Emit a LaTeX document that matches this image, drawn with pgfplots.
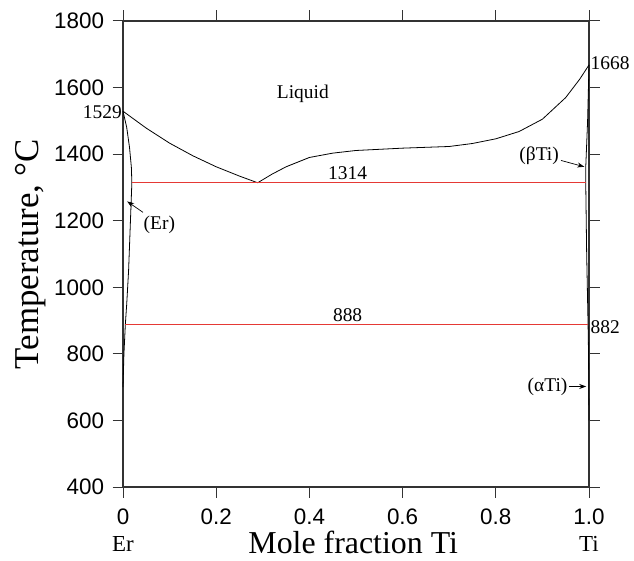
\documentclass[border=0pt]{standalone}
\usepackage{pgfplots}
\pgfplotsset{compat=1.18}
\usepackage{fontspec}
\setmainfont{Liberation Serif}
\newfontfamily\arial{Liberation Sans}
\usetikzlibrary{arrows.meta}
\definecolor{phaseRed}{HTML}{E53935}

% phase boundaries (x = mole fraction Ti, T in deg C)
\pgfplotstableread{
x T
0 1529
0.05 1478
0.10 1433
0.15 1395
0.20 1362
0.25 1334
0.289 1314
}\liqleft
\pgfplotstableread{
x T
0.289 1314
0.32 1340
0.35 1362
0.40 1390
0.45 1403
0.50 1411
0.60 1418
0.70 1423
0.75 1432
0.80 1446
0.85 1468
0.90 1505
0.95 1570
0.98 1625
1.00 1668
}\liqright
\pgfplotstableread{
x T
0 1529
0.008 1480
0.014 1420
0.018 1360
0.019 1314
0.016 1200
0.012 1050
0.008 950
0.005 888
0.002 800
0 700
}\erside
\pgfplotstableread{
x T
1.000 1668
0.997 1500
0.993 1360
0.993 1314
0.995 1100
0.998 888
0.999 800
1.000 600
}\tiside

\begin{document}
\begin{tikzpicture}
\begin{axis}[
  scale only axis,
  width=466bp, height=466bp,
  xmin=0, xmax=1, ymin=400, ymax=1800,
  xtick={0,0.2,0.4,0.6,0.8,1.0},
  xticklabels={0,0.2,0.4,0.6,0.8,1.0},
  ytick={400,600,...,1800},
  /pgf/number format/1000 sep={},
  tick align=outside,
  major tick length=10.5bp,
  axis line style={draw=black!80, line width=1.1pt},
  every tick/.style={draw=black!80, line width=1pt},
  tick label style={font=\arial\fontsize{22.5}{26}\selectfont},
  /pgf/number format/assume math mode=true,
  yticklabel style={xshift=-5bp},
  xticklabel style={yshift=-8bp},
  clip=false,
]
\addplot[black, line width=0.8pt] table {\liqleft};
\addplot[black, line width=0.8pt] table {\liqright};
\addplot[black, line width=0.8pt] table {\erside};
\addplot[black, line width=0.8pt] table {\tiside};
\addplot[phaseRed, line width=1pt] coordinates {(0.019,1314) (0.993,1314)};
\addplot[phaseRed, line width=1pt] coordinates {(0.004,888) (0.997,888)};

\draw[-{Stealth[length=7pt,width=5pt]}, line width=0.7pt] (axis cs:0.043,1225) -- (axis cs:0.009,1258);
\draw[-{Stealth[length=7pt,width=5pt]}, line width=0.7pt] (axis cs:0.940,1381) -- (axis cs:0.990,1362);
\draw[-{Stealth[length=7pt,width=5pt]}, line width=0.7pt] (axis cs:0.958,702) -- (axis cs:0.994,702);

\node[font=\fontsize{19.5}{22}\selectfont] at (axis cs:0.078,1188) {(Er)};
\node[font=\fontsize{19.5}{22}\selectfont] at (axis cs:0.893,1396) {(βTi)};
\node[font=\fontsize{19.5}{22}\selectfont] at (axis cs:0.911,702) {(αTi)};
\node[font=\fontsize{19.5}{22}\selectfont, anchor=east, inner sep=1bp] at (axis cs:0,1527) {1529};
\node[font=\fontsize{19.5}{22}\selectfont, anchor=west, inner sep=1.5bp] at (axis cs:1,1673) {1668};
\node[font=\fontsize{19.5}{22}\selectfont, anchor=west, inner sep=1.5bp] at (axis cs:1,880) {882};
\node[font=\fontsize{19.5}{22}\selectfont] at (axis cs:0.482,1342) {1314};
\node[font=\fontsize{19.5}{22}\selectfont] at (axis cs:0.482,917) {888};
\node[font=\fontsize{19.5}{22}\selectfont] at (axis cs:0.386,1582) {Liquid};

\node[font=\fontsize{23}{26}\selectfont, anchor=base, inner sep=0pt] at ([yshift=-64bp]axis cs:0.0,400) {Er};
\node[font=\fontsize{23}{26}\selectfont, anchor=base, inner sep=0pt] at ([yshift=-64bp]axis cs:1.0,400) {Ti};
\node[font=\fontsize{32}{35}\selectfont, anchor=base, inner sep=0pt] at ([yshift=-66bp]axis cs:0.494,400) {Mole fraction Ti};
\node[font=\fontsize{35}{38}\selectfont, rotate=90, anchor=center] at ([xshift=-92bp]axis cs:0,1100) {Temperature, °C};

\coordinate (sw) at ([xshift=-123bp, yshift=-74bp]rel axis cs:0,0);
\coordinate (ne) at ([xshift=45bp, yshift=21bp]rel axis cs:1,1);
\end{axis}
\pgfresetboundingbox
\path (sw) rectangle (ne);
\end{tikzpicture}
\end{document}
